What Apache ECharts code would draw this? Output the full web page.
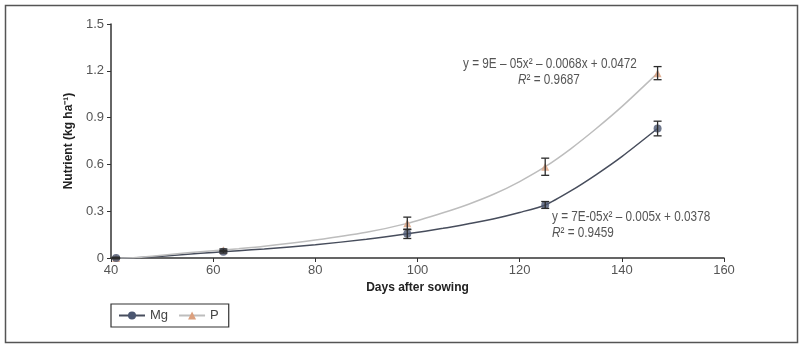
<!DOCTYPE html>
<html>
<head>
<meta charset="utf-8">
<script src="https://cdn.jsdelivr.net/npm/echarts@6/dist/echarts.min.js"></script>
<style>
  html, body { margin: 0; padding: 0; background: #fff; }
  #chart { width: 799px; height: 344px; }
</style>
</head>
<body>
<div id="chart"></div>
<script>
// sampling days and mean nutrient accumulation (kg ha-1)
const days = [41, 62, 98, 125, 147];
const mgValues = [0, 0.04, 0.155, 0.34, 0.83];
const mgErrors = [0.004, 0.008, 0.03, 0.022, 0.047];
const pValues = [0, 0.05, 0.222, 0.585, 1.185];
const pErrors = [0.004, 0.008, 0.04, 0.055, 0.042];

// fitted trend curves
const trendDays = [41, 45, 50, 55, 60, 65, 70, 80, 90, 98, 105, 110, 115, 120, 125, 130, 135, 140, 147];
const mgTrend = [0, 0.002, 0.012, 0.024, 0.036, 0.047, 0.058, 0.085, 0.12, 0.155, 0.19, 0.22, 0.252, 0.292, 0.34, 0.43, 0.535, 0.65, 0.83];
const pTrend = [0, 0.003, 0.018, 0.033, 0.047, 0.06, 0.075, 0.115, 0.165, 0.222, 0.29, 0.345, 0.41, 0.49, 0.585, 0.7, 0.83, 0.97, 1.185];

const xTicks = { min: 40, max: 160, interval: 20 };
const yTicks = { min: 0, max: 1.5, interval: 0.3 };

const FONT = "'Liberation Sans', Arial, sans-serif";
const chart = echarts.init(document.getElementById("chart"), null, { renderer: "canvas" });

// error bar drawn as vertical line + two caps
function errorBar(params, api) {
  const x = api.value(0);
  const lo = api.coord([x, api.value(1)]);
  const hi = api.coord([x, api.value(2)]);
  const cap = 4;
  const style = { stroke: "#2b2b2b", lineWidth: 1.3 };
  return {
    type: "group",
    children: [
      { type: "line", shape: { x1: lo[0], y1: lo[1], x2: hi[0], y2: hi[1] }, style },
      { type: "line", shape: { x1: lo[0] - cap, y1: lo[1], x2: lo[0] + cap, y2: lo[1] }, style },
      { type: "line", shape: { x1: hi[0] - cap, y1: hi[1], x2: hi[0] + cap, y2: hi[1] }, style },
    ],
  };
}

const pairs = (xs, vals) => xs.map((d, i) => [d, vals[i]]);
const bars = (vals, errs) => days.map((d, i) => [d, vals[i] - errs[i], vals[i] + errs[i]]);

const eqText = (text, left, top) => ({
  type: "text",
  left,
  top,
  scaleX: 0.84,
  style: {
    text,
    fontSize: 14,
    fill: "#555",
    fontFamily: FONT,
    rich: { i: { fontStyle: "italic", fontSize: 14, fill: "#555", fontFamily: FONT } },
  },
});

chart.setOption({
  backgroundColor: "#fff",
  animation: false,
  textStyle: { fontFamily: FONT },
  grid: { left: 111, right: 75, top: 24, bottom: 86 },
  legend: {
    left: 111,
    top: 304,
    itemWidth: 26,
    itemHeight: 10,
    itemGap: 10,
    padding: [5, 10, 5, 7],
    borderColor: "#333",
    borderWidth: 1.2,
    borderRadius: 0,
    textStyle: { fontSize: 13, color: "#444", fontFamily: FONT },
    data: ["Mg", "P"],
  },
  xAxis: {
    type: "value",
    min: xTicks.min,
    max: xTicks.max,
    interval: xTicks.interval,
    name: "Days after sowing",
    nameLocation: "middle",
    nameGap: 24,
    nameTextStyle: { fontSize: 12, fontWeight: "bold", color: "#222", fontFamily: FONT },
    axisLine: { lineStyle: { color: "#333", width: 1.5 } },
    axisTick: { length: 4, lineStyle: { color: "#333" } },
    axisLabel: { fontSize: 13, color: "#555", margin: 6 },
    splitLine: { show: false },
  },
  yAxis: {
    type: "value",
    min: yTicks.min,
    max: yTicks.max,
    interval: yTicks.interval,
    name: "Nutrient (kg ha\u207B\u00B9)",
    nameLocation: "middle",
    nameGap: 33,
    nameTextStyle: { fontSize: 12, fontWeight: "bold", color: "#222", fontFamily: FONT },
    axisLine: { show: true, lineStyle: { color: "#333", width: 1.5 } },
    axisTick: { show: true, length: 4, lineStyle: { color: "#333" } },
    axisLabel: { fontSize: 13, color: "#555", margin: 7 },
    splitLine: { show: false },
  },
  series: [
    {
      name: "Mg",
      type: "line",
      data: pairs(trendDays, mgTrend),
      smooth: 0.25,
      symbol: "circle",
      symbolSize: 8,
      showSymbol: false,
      lineStyle: { color: "#474d5c", width: 1.5 },
      itemStyle: { color: "#4b5670" },
      z: 2,
    },
    {
      name: "P",
      type: "line",
      data: pairs(trendDays, pTrend),
      smooth: 0.25,
      symbol: "triangle",
      symbolSize: 8,
      showSymbol: false,
      lineStyle: { color: "#bdbdbd", width: 1.5 },
      itemStyle: { color: "#dca07e" },
      z: 2,
    },
    {
      name: "P points",
      type: "scatter",
      data: pairs(days, pValues),
      symbol: "triangle",
      symbolSize: 8,
      itemStyle: { color: "#dca07e" },
      z: 3,
    },
    {
      name: "Mg points",
      type: "scatter",
      data: pairs(days, mgValues),
      symbol: "circle",
      symbolSize: 8,
      itemStyle: { color: "#4b5670" },
      z: 3,
    },
    {
      type: "custom",
      renderItem: errorBar,
      data: bars(pValues, pErrors),
      encode: { x: 0, y: [1, 2] },
      z: 4,
    },
    {
      type: "custom",
      renderItem: errorBar,
      data: bars(mgValues, mgErrors),
      encode: { x: 0, y: [1, 2] },
      z: 4,
    },
  ],
  graphic: [
    {
      type: "rect",
      left: 3,
      top: 3,
      shape: { width: 792, height: 337 },
      style: { fill: "none", stroke: "#555", lineWidth: 1.5 },
      silent: true,
    },
    eqText("y = 9E \u2013 05x\u00B2 \u2013 0.0068x + 0.0472", 463, 57),
    eqText("{i|R}\u00B2 = 0.9687", 518, 73),
    eqText("y = 7E-05x\u00B2 \u2013 0.005x + 0.0378", 552, 210),
    eqText("{i|R}\u00B2 = 0.9459", 552, 226),
  ],
});
</script>
</body>
</html>
